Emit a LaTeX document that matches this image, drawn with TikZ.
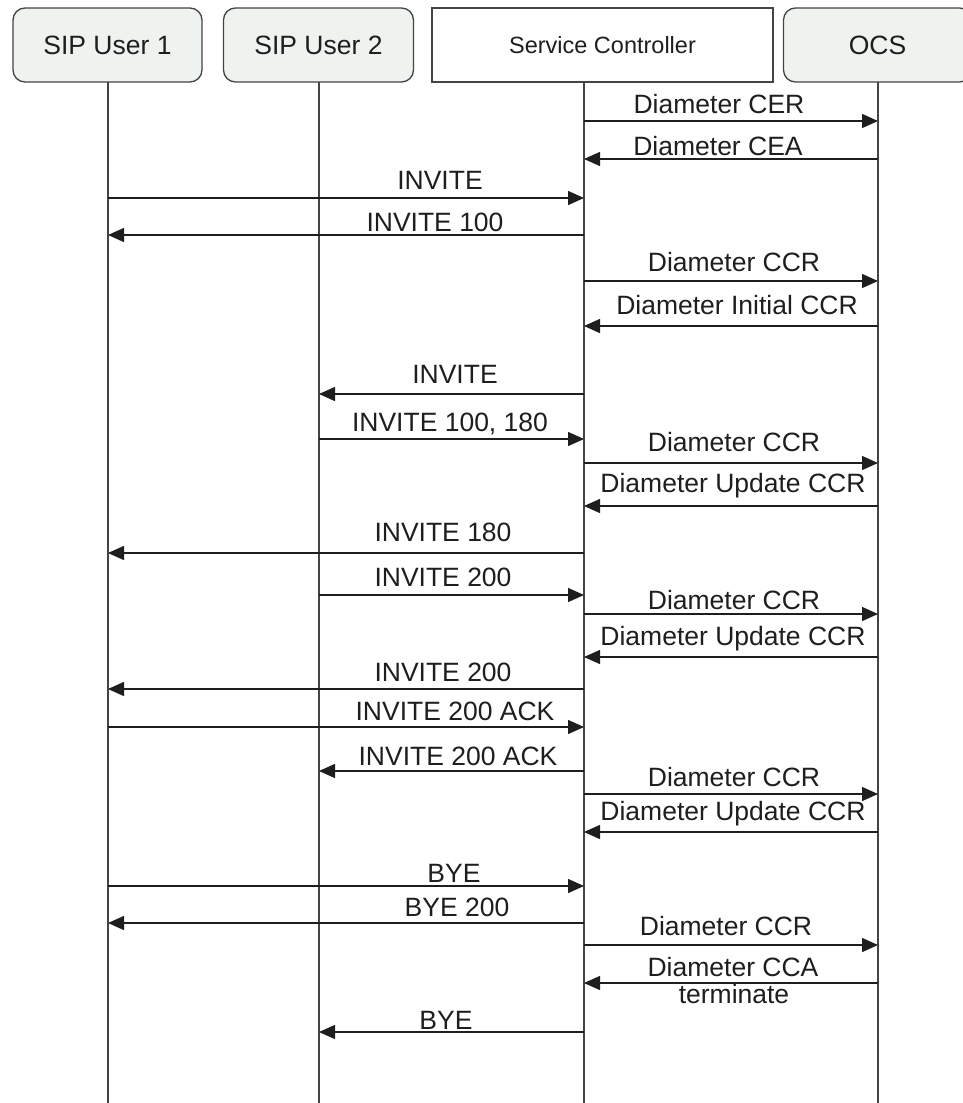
\documentclass[tikz,border=0pt]{standalone}
\usepackage{fontspec}
\setmainfont{Liberation Sans}
\usetikzlibrary{arrows.meta}
\definecolor{boxfill}{HTML}{EEF3EF}
\definecolor{edge}{HTML}{444444}
\definecolor{ink}{HTML}{1E1E1E}
\begin{document}
\begin{tikzpicture}[x=1pt,y=-1pt,
  actor/.style={draw=edge, line width=1.3pt, fill=boxfill, rounded corners=12pt,
    minimum height=74pt, inner sep=0pt, text=ink, font=\fontsize{26.5}{28}\selectfont},
  ctrl/.style={draw=edge, line width=1.3pt, fill=white,
    minimum height=74pt, inner sep=0pt, text=ink, font=\fontsize{23.5}{26}\selectfont},
  lifeline/.style={draw=edge, line width=1.4pt},
  msg/.style={draw=ink, line width=1.4pt, -{Triangle[length=16pt,width=14pt]}},
  lbl/.style={anchor=base, inner sep=0pt, text=ink, font=\fontsize{26.5}{27}\selectfont}]
\clip (0,0) rectangle (963,1103);
\fill[white] (0,0) rectangle (963,1103);

% header boxes
\node[actor, minimum width=189pt] (u1) at (107.5,45) {SIP User 1};
\node[actor, minimum width=190pt] (u2) at (318.5,45) {SIP User 2};
\node[ctrl, minimum width=341pt] (sc) at (602.5,45) {Service Controller};
\node[actor, minimum width=188pt] (ocs) at (877.5,45) {OCS};

% lifelines
\coordinate (L1) at (108,82);  \coordinate (L1b) at (108,1110);
\coordinate (L2) at (319,82);  \coordinate (L2b) at (319,1110);
\coordinate (L3) at (584,82);  \coordinate (L3b) at (584,1110);
\coordinate (L4) at (878,82);  \coordinate (L4b) at (878,1110);
\foreach \k in {1,2,3,4} { \draw[lifeline] (L\k) -- (L\k b); }

% messages: index / from / to / arrow y / label x / label cap-centre y / text
\foreach \i/\a/\b/\ya/\lx/\ly/\t in {
  1/3/4/121/719/104/{Diameter CER},
  2/4/3/159/718/146/{Diameter CEA},
  3/1/3/198/440/180/{INVITE},
  4/3/1/235/435/222/{INVITE 100},
  5/3/4/281/734/262/{Diameter CCR},
  6/4/3/326/737/305/{Diameter Initial CCR},
  7/3/2/394/455/374/{INVITE},
  8/2/3/439/450/422/{INVITE 100, 180},
  9/3/4/463/734/442/{Diameter CCR},
  10/4/3/506/733/483/{Diameter Update CCR},
  11/3/1/553/443/532/{INVITE 180},
  12/2/3/595/443/577/{INVITE 200},
  13/3/4/614/734/600/{Diameter CCR},
  14/4/3/657/733/636/{Diameter Update CCR},
  15/3/1/689/443/672/{INVITE 200},
  16/1/3/727/455/711/{INVITE 200 ACK},
  17/3/2/771/458/756/{INVITE 200 ACK},
  18/3/4/794/734/777/{Diameter CCR},
  19/4/3/832/733/811/{Diameter Update CCR},
  20/1/3/886/454/873/{BYE},
  21/3/1/923/457/907/{BYE 200},
  22/3/4/945/726/926/{Diameter CCR},
  23/4/3/983/733/967/{Diameter CCA},
  24/3/2/1032/446/1020/{BYE}}
{
  \coordinate (m\i s) at (L\a |- 0,\ya);
  \coordinate (m\i e) at (L\b |- 0,\ya);
  \draw[msg] (m\i s) -- (m\i e);
  \node[lbl] (t\i) at (\lx,\ly+9.5) {\t};
}
\node[lbl] (t23b) at (734,1003) {terminate};
\end{tikzpicture}
\end{document}
